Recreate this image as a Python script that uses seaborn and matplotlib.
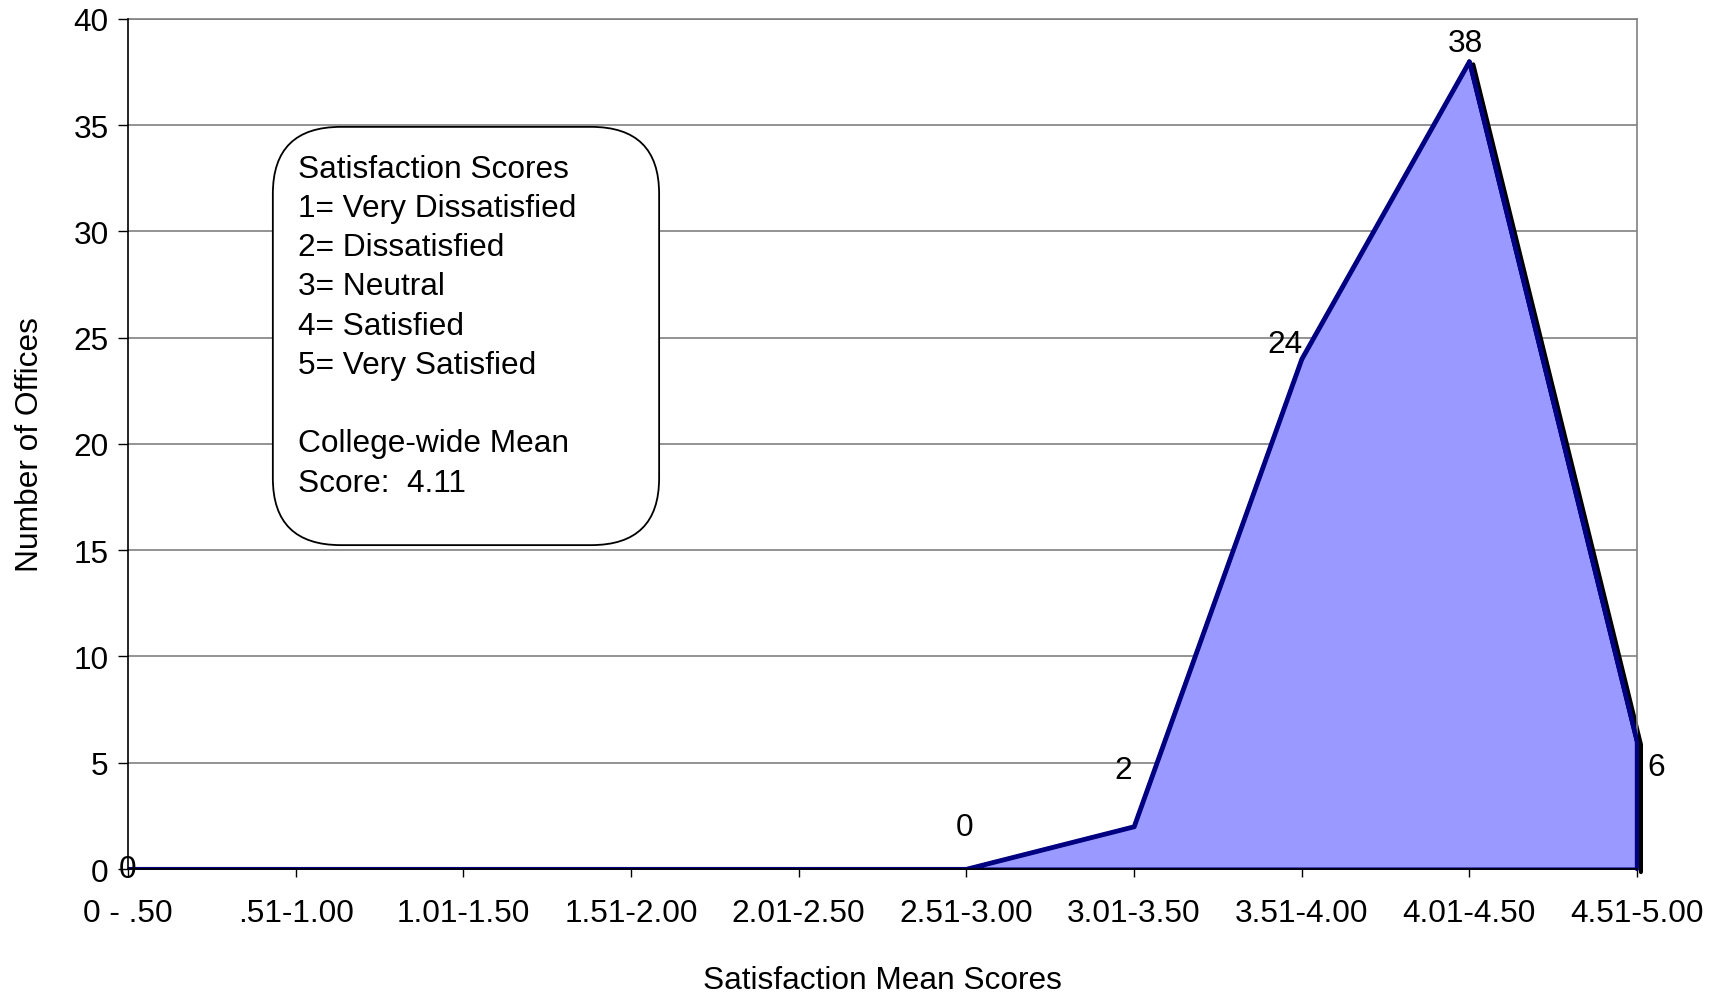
import matplotlib
matplotlib.use("Agg")
import matplotlib.pyplot as plt
import matplotlib.transforms as mtransforms
from matplotlib.patches import FancyBboxPatch
import numpy as np
import pandas as pd
import seaborn as sns

# data
score_bins = ["0 - .50", ".51-1.00", "1.01-1.50", "1.51-2.00", "2.01-2.50",
              "2.51-3.00", "3.01-3.50", "3.51-4.00", "4.01-4.50", "4.51-5.00"]
offices = [0, 0, 0, 0, 0, 0, 2, 24, 38, 6]
# which points carry a value label, and where it sits (offset in points)
labelled = [0, 5, 6, 7, 8, 9]
label_offsets = {0: (0, 0), 5: (-1, 30), 6: (-8, 41), 7: (-12, 11), 8: (-3, 13), 9: (14, -18)}

legend_lines = ["Satisfaction Scores", "1= Very Dissatisfied", "2= Dissatisfied",
                "3= Neutral", "4= Satisfied", "5= Very Satisfied", "",
                "College-wide Mean", "Score:  4.11"]

df = pd.DataFrame({"pos": np.arange(len(score_bins)), "offices": offices})

sns.set_style("white")
plt.rcParams["font.family"] = ["Liberation Sans", "DejaVu Sans"]
plt.rcParams.update({"text.color": "black", "axes.labelcolor": "black",
                     "xtick.color": "black", "ytick.color": "black"})
FS = 22.8

fig = plt.figure(figsize=(17.11, 9.95), dpi=100)
ax = fig.add_axes([0.0748, 0.1256, 0.8819, 0.8544])

# fill + outline
ax.fill_between(df["pos"], df["offices"], 0, facecolor="#9999FF",
                edgecolor="#000080", linewidth=3, zorder=3)
sns.lineplot(data=df, x="pos", y="offices", color="#000080", linewidth=3, ax=ax, zorder=4)

# black shadow on the falling edge
shadow = mtransforms.offset_copy(ax.transData, fig=fig, x=4, y=-3, units="dots")
tail = df[df["pos"] >= 8]
tail_x = list(tail["pos"]) + [tail["pos"].iloc[-1]]
tail_y = list(tail["offices"]) + [0]
ax.plot(tail_x, tail_y, color="black", linewidth=3, transform=shadow, zorder=2, clip_on=False)
ax.plot(tail_x, tail_y, color="#000080", linewidth=3, zorder=4, clip_on=False)

for i in labelled:
    ax.annotate(str(offices[i]), (i, offices[i]), xytext=label_offsets[i],
                textcoords="offset points", ha="center", va="center",
                fontsize=FS, color="black", zorder=6)

ax.set_xlim(0, len(score_bins) - 1)
ax.set_ylim(0, 40)
ax.set_xticks(df["pos"])
ax.set_xticklabels(score_bins)
ax.set_yticks(range(0, 41, 5))
ax.tick_params(axis="x", direction="out", length=6, width=1, pad=15, labelsize=FS,
               bottom=True, color="black")
ax.tick_params(axis="y", direction="out", length=7, width=1, pad=7, labelsize=FS,
               left=True, color="black")
ax.yaxis.grid(True, color="#808080", linewidth=1.2)
ax.set_axisbelow(True)
for side in ["left", "bottom"]:
    ax.spines[side].set_color("black")
    ax.spines[side].set_linewidth(1.2)
for side in ["top", "right"]:
    ax.spines[side].set_color("#808080")
    ax.spines[side].set_linewidth(1.2)
ax.spines["left"].set_zorder(5)
ax.spines["bottom"].set_zorder(5)

ax.set_xlabel("Satisfaction Mean Scores", fontsize=FS, va="center")
ax.set_ylabel("Number of Offices", fontsize=FS, va="center")
ax.xaxis.set_label_coords(0.5, -0.13)
ax.yaxis.set_label_coords(-0.065, 0.5)

# legend-like note box
box = FancyBboxPatch((0.096, 0.381), 0.256, 0.492, transform=ax.transAxes,
                     boxstyle="round,pad=0,rounding_size=0.045",
                     mutation_aspect=1.75, facecolor="white", edgecolor="black",
                     linewidth=1.3, zorder=7)
ax.add_patch(box)
y0, step = 0.824, 0.0462
for k, line in enumerate(legend_lines):
    if line:
        ax.text(0.1125, y0 - k * step, line, transform=ax.transAxes, ha="left",
                va="center", fontsize=FS, zorder=8)

fig.savefig("out.png", dpi=100)
